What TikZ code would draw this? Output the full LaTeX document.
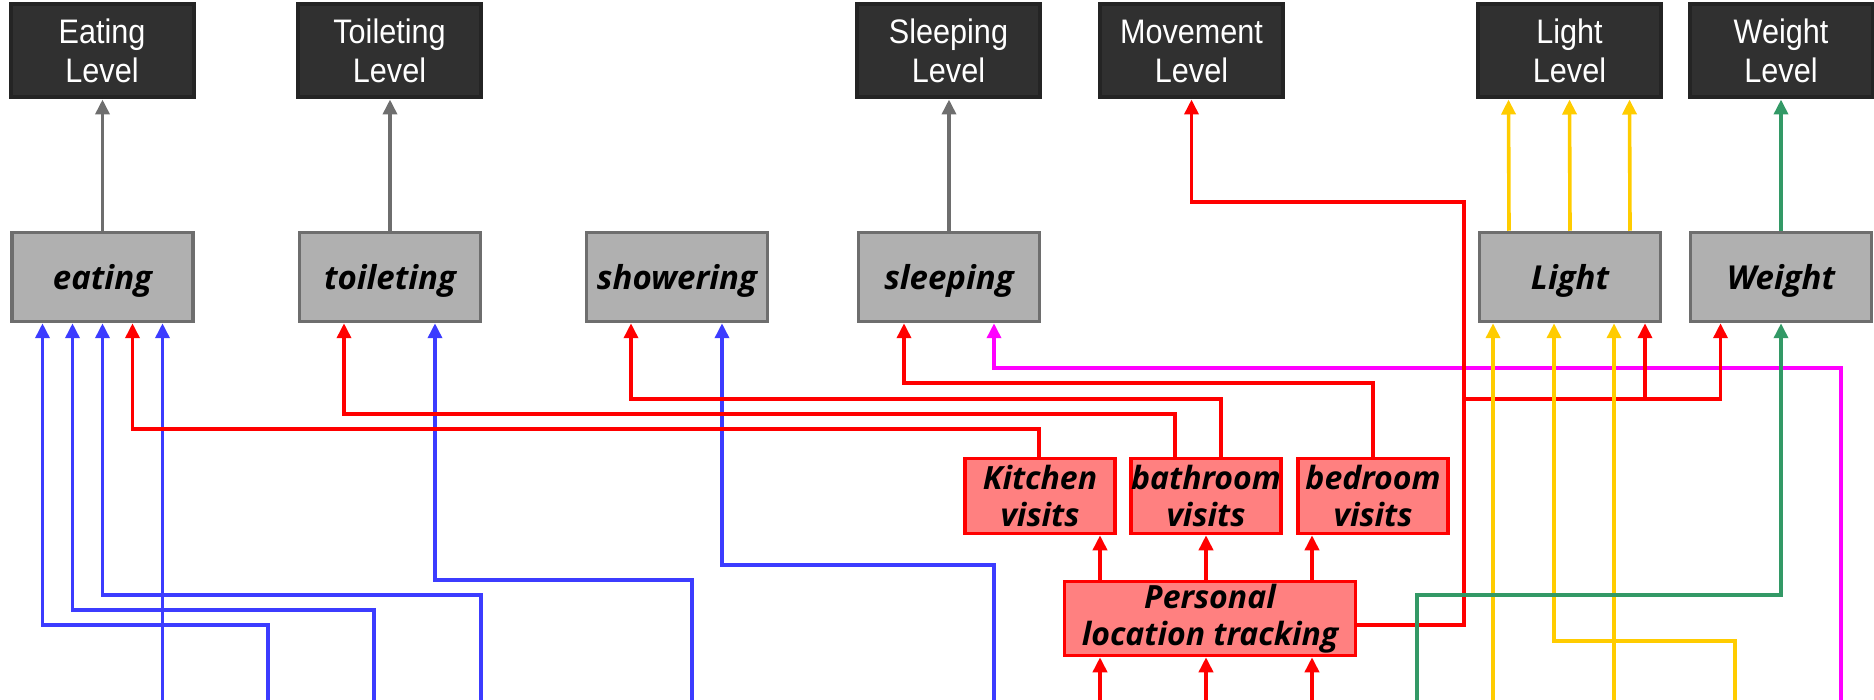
\documentclass[tikz,border=0pt]{standalone}
\usepackage{fontspec}
\setmainfont{Liberation Sans}
\newfontfamily\lvlfont[FakeStretch=0.9]{Liberation Sans}
\newfontfamily\actfont{Open Sans}
\usetikzlibrary{arrows.meta}
\definecolor{lvldark}{RGB}{48,48,48}
\definecolor{lvlborder}{RGB}{36,36,36}
\definecolor{actgray}{RGB}{176,176,176}
\definecolor{linegray}{RGB}{110,110,110}
\definecolor{sensblue}{RGB}{60,60,255}
\definecolor{sensyellow}{RGB}{255,204,0}
\definecolor{sensgreen}{RGB}{51,153,102}
\definecolor{sensmagenta}{RGB}{255,0,255}
\definecolor{senspink}{RGB}{255,128,128}

\tikzset{
  level/.style={draw=lvlborder,line width=4pt,fill=lvldark,text=white,inner sep=0pt,
    minimum width=183pt,minimum height=93pt,align=center,
    font=\lvlfont\fontsize{34}{39}\selectfont},
  activity/.style={draw=linegray,line width=3.5pt,fill=actgray,inner sep=0pt,
    minimum width=181pt,minimum height=89pt,text depth=0pt,
    font=\actfont\bfseries\itshape\fontsize{33}{38}\selectfont},
  visit/.style={draw=red,line width=3.5pt,fill=senspink,inner sep=0pt,align=center,
    minimum width=150pt,minimum height=75pt,
    font=\actfont\bfseries\itshape\fontsize{32}{37}\selectfont},
  wire/.style={line width=3.6pt},
}

\begin{document}
\begin{tikzpicture}[x=1pt,y=-1pt,>={Triangle[length=15pt,width=14pt]}]
\useasboundingbox (0,0) rectangle (1874,700);

% levels
\node[level] (EatLvl) at (102,51) {Eating\\Level};
\node[level] (ToilLvl) at (389.5,51) {Toileting\\Level};
\node[level] (SleepLvl) at (948.5,51) {Sleeping\\Level};
\node[level] (MoveLvl) at (1191.5,51) {Movement\\Level};
\node[level] (LightLvl) at (1569.5,51) {Light\\Level};
\node[level] (WeightLvl) at (1781,51) {Weight\\Level};

% activities
\node[activity] (eating) at (102.5,277) {eating};
\node[activity] (toileting) at (390,277) {toileting};
\node[activity] (showering) at (677,277) {showering};
\node[activity] (sleeping) at (949,277) {sleeping};
\node[activity] (Light) at (1570,277) {Light};
\node[activity] (Weight) at (1781,277) {Weight};

% location
\node[visit] (kitchen) at (1040,496) {Kitchen\\visits};
\node[visit] (bathroom) at (1206,496) {bathroom\\visits};
\node[visit] (bedroom) at (1373,496) {bedroom\\visits};
\node[visit,minimum width=291pt,minimum height=74pt] (Personal) at (1210,618.5) {Personal\\location tracking};

% sensor inputs at the bottom edge
\coordinate (s1) at (268,700);
\coordinate (s2) at (374,700);
\coordinate (s3) at (481,700);
\coordinate (s4) at (162.5,700);
\coordinate (s5) at (692,700);
\coordinate (s6) at (994,700);
\coordinate (t1) at (1100,700);
\coordinate (t2) at (1206,700);
\coordinate (t3) at (1312,700);
\coordinate (g1) at (1417,700);
\coordinate (y1) at (1493,700);
\coordinate (y3) at (1614,700);
\coordinate (y2) at (1735,700);
\coordinate (m1) at (1841,700);
\coordinate (split) at (1464,399);

\draw[wire,linegray,->] (eating.north) -- (eating.north |- EatLvl.south);
\draw[wire,linegray,->] (toileting.north) -- (toileting.north |- ToilLvl.south);
\draw[wire,linegray,->] (sleeping.north) -- (sleeping.north |- SleepLvl.south);
\foreach \dx in {-61,0,60}
  \draw[wire,sensyellow,->] ([xshift=\dx pt]Light.north) -- ([xshift=\dx pt]LightLvl.south);
\draw[wire,sensgreen,->] (Weight.north) -- (WeightLvl.south);

% blue
\draw[wire,sensblue,->] (s4) -- ([xshift=60pt]eating.south);
\draw[wire,sensblue,->] (s1) -- (268,625) -| ([xshift=-60pt]eating.south);
\draw[wire,sensblue,->] (s2) -- (374,610) -| ([xshift=-30pt]eating.south);
\draw[wire,sensblue,->] (s3) -- (481,595) -| (eating.south);
\draw[wire,sensblue,->] (s5) -- (692,580) -| ([xshift=45pt]toileting.south);
\draw[wire,sensblue,->] (s6) -- (994,565) -| ([xshift=45pt]showering.south);

% visits to activities
\draw[wire,red,->] ([xshift=-1pt]kitchen.north) -- (1039,429) -| ([xshift=30pt]eating.south);
\draw[wire,red,->] ([xshift=-31pt]bathroom.north) -- (1175,414) -| ([xshift=-46pt]toileting.south);
\draw[wire,red,->] ([xshift=15pt]bathroom.north) -- (1221,399) -| ([xshift=-46pt]showering.south);
\draw[wire,red,->] (bedroom.north) -- (1373,383) -| ([xshift=-45pt]sleeping.south);
\draw[wire,sensmagenta,->] (m1) -- (1841,368) -| ([xshift=45pt]sleeping.south);

% tracking
\foreach \t/\v in {t1/kitchen,t2/bathroom,t3/bedroom}{
  \draw[wire,red,->] (\t) -- (\t |- Personal.south);
  \draw[wire,red,->] (\t |- Personal.north) -- (\t |- \v.south);
}
\draw[wire,red,->] ([yshift=-6.5pt]Personal.east) -| (1464,202) -| (MoveLvl.south);
\draw[wire,red,->] (split) -| ([xshift=75pt]Light.south);
\draw[wire,red,->] (split) -| ([xshift=-60.5pt]Weight.south);

% yellow, green
\draw[wire,sensyellow,->] (y1) -- (y1 |- Light.south);
\draw[wire,sensyellow,->] (y3) -- (y3 |- Light.south);
\draw[wire,sensyellow,->] (y2) -- (1735,641) -| ([xshift=-16pt]Light.south);
\draw[wire,sensgreen,->] (g1) -- (1417,595) -| (Weight.south);

\end{tikzpicture}
\end{document}
